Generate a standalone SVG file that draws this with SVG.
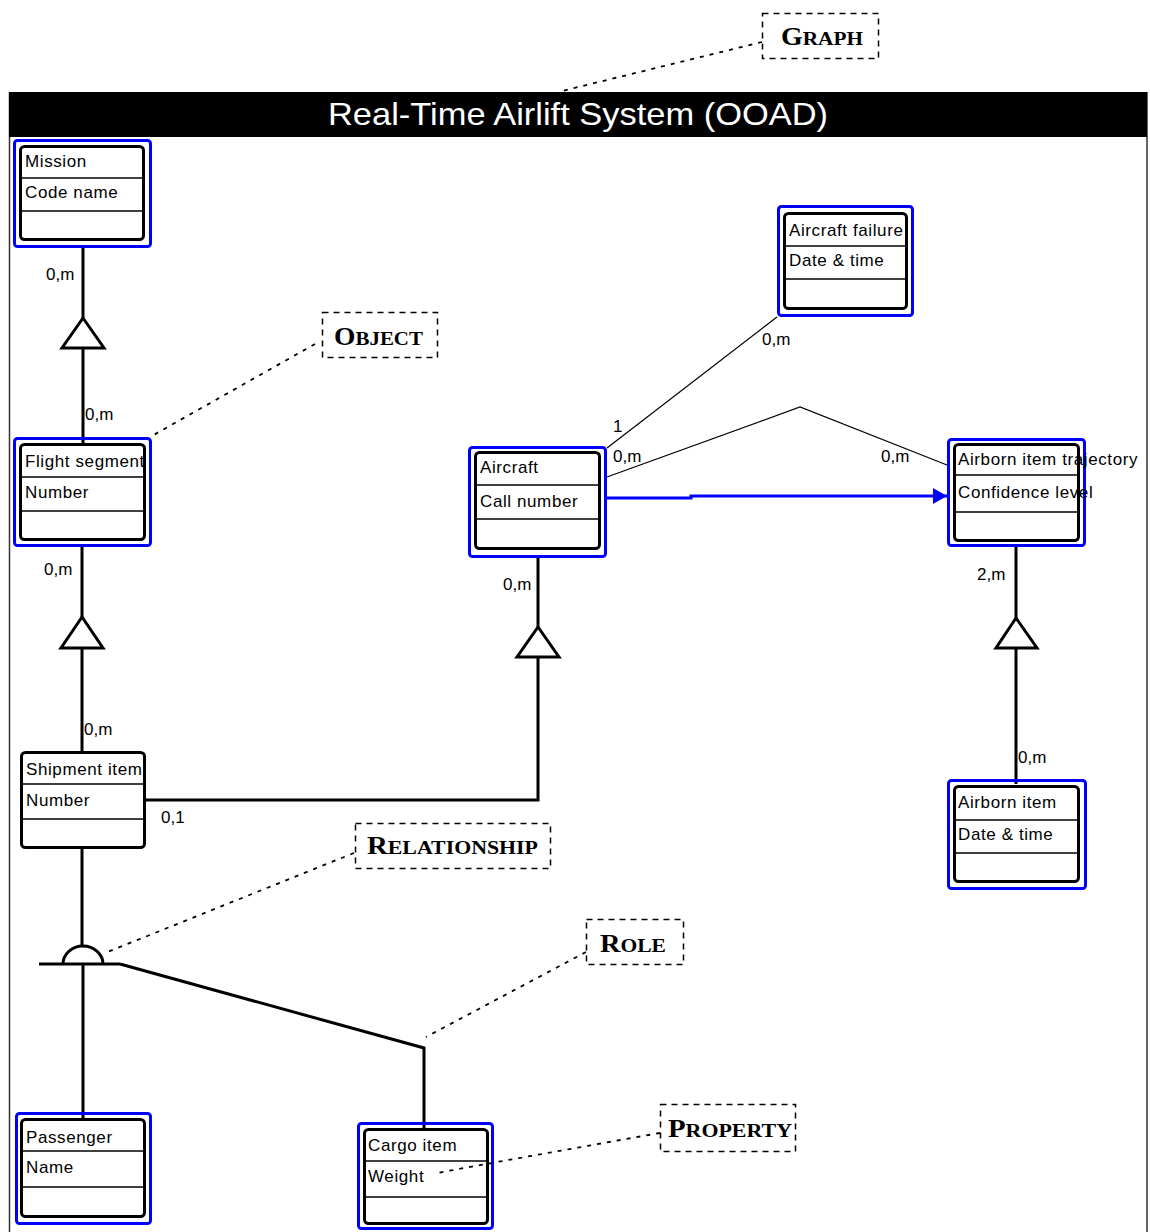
<svg xmlns="http://www.w3.org/2000/svg" width="1150" height="1232" viewBox="0 0 1150 1232">
<defs>
<style>
.blue{fill:none;stroke:#0000ff;stroke-width:3}
.box{fill:#fff;stroke:#000;stroke-width:3}
.div{stroke:#000;stroke-width:1.5}
.lbl{font-family:"Liberation Sans",Arial,sans-serif;font-size:17px;letter-spacing:0.6px;fill:#000}
.card{font-family:"Liberation Sans",Arial,sans-serif;font-size:17px;fill:#000}
.thick{fill:none;stroke:#000;stroke-width:3}
.thin{fill:none;stroke:#000;stroke-width:1.2}
.tri{fill:#fff;stroke:#000;stroke-width:3;stroke-linejoin:miter}
.cbox{fill:#fff;stroke:#000;stroke-width:1.5;stroke-dasharray:6 5}
.lead{fill:none;stroke:#000;stroke-width:1.8;stroke-dasharray:4 6}
.ctext{font-family:"Liberation Serif","Times New Roman",serif;font-weight:bold;fill:#000}
.big{font-size:25px}
.sm{font-size:19px}
</style>
<marker id="arr" markerWidth="14" markerHeight="16" refX="14" refY="8" orient="auto" markerUnits="userSpaceOnUse">
<path d="M0,0 L14,8 L0,16 Z" fill="#0000ff"/>
</marker>
</defs>

<g id="frame">
<line x1="9.5" y1="92" x2="9.5" y2="1232" stroke="#333" stroke-width="1.5"/>
<line x1="1147" y1="92" x2="1147" y2="1232" stroke="#333" stroke-width="1.5"/>
<rect x="9" y="92" width="1138" height="45" fill="#000"/>
<text x="578" y="125" text-anchor="middle" font-family="'Liberation Sans',Arial,sans-serif" font-size="32" fill="#fff" textLength="500" lengthAdjust="spacingAndGlyphs">Real-Time Airlift System (OOAD)</text>
</g>

<g id="connectors">
<line class="thick" x1="83" y1="248" x2="83" y2="318"/>
<polygon class="tri" points="83,318 62,348 104,348"/>
<line class="thick" x1="83" y1="348" x2="83" y2="443"/>

<line class="thick" x1="82" y1="547" x2="82" y2="617"/>
<polygon class="tri" points="82,617 61,648 103,648"/>
<line class="thick" x1="82" y1="648" x2="82" y2="751"/>

<line class="thick" x1="538" y1="558" x2="538" y2="627"/>
<polygon class="tri" points="538,627 517,657 559,657"/>
<polyline class="thick" points="538,657 538,800 146,800"/>

<line class="thick" x1="1016" y1="547" x2="1016" y2="618"/>
<polygon class="tri" points="1016,618 996,648 1037,648"/>
<line class="thick" x1="1016" y1="648" x2="1016" y2="784"/>

<line class="thin" x1="777" y1="317" x2="607" y2="448"/>
<polyline class="thin" points="607,477 800,407 947,465"/>
<polyline fill="none" stroke="#0000ff" stroke-width="3" points="607,498 691,498 691,496 947,496" marker-end="url(#arr)"/>

<line class="thick" x1="82" y1="849" x2="82" y2="946"/>
<path class="thick" d="M63,964 A20,18 0 0 1 103,964"/>
<line class="thick" x1="39" y1="964" x2="120" y2="964"/>
<polyline class="thick" points="120,964 424,1048 424,1128"/>
<line class="thick" x1="83" y1="964" x2="83" y2="1118"/>

<text class="card" x="46" y="280">0,m</text>
<text class="card" x="85" y="420">0,m</text>
<text class="card" x="44" y="575">0,m</text>
<text class="card" x="84" y="735">0,m</text>
<text class="card" x="503" y="590">0,m</text>
<text class="card" x="161" y="823">0,1</text>
<text class="card" x="762" y="345">0,m</text>
<text class="card" x="613" y="432">1</text>
<text class="card" x="613" y="462">0,m</text>
<text class="card" x="881" y="462">0,m</text>
<text class="card" x="977" y="580">2,m</text>
<text class="card" x="1018" y="763">0,m</text>
</g>

<g id="mission">
<rect class="blue" x="14.5" y="140.5" width="136" height="106" rx="3"/>
<rect class="box" x="20.5" y="146.5" width="123" height="93" rx="4"/>
<line class="div" x1="20" y1="178" x2="144" y2="178"/>
<line class="div" x1="20" y1="211" x2="144" y2="211"/>
<text class="lbl" x="25" y="167">Mission</text>
<text class="lbl" x="25" y="198">Code name</text>
</g>

<g id="flight-segment">
<rect class="blue" x="14.5" y="438.5" width="136" height="107" rx="3"/>
<rect class="box" x="20.5" y="444.5" width="124" height="95" rx="4"/>
<line class="div" x1="20" y1="477" x2="145" y2="477"/>
<line class="div" x1="20" y1="511" x2="145" y2="511"/>
<text class="lbl" x="25" y="467">Flight segment</text>
<text class="lbl" x="25" y="498">Number</text>
</g>

<g id="shipment-item">
<rect class="box" x="21.5" y="752.5" width="123" height="95" rx="4"/>
<line class="div" x1="21" y1="784" x2="145" y2="784"/>
<line class="div" x1="21" y1="819" x2="145" y2="819"/>
<text class="lbl" x="26" y="775">Shipment item</text>
<text class="lbl" x="26" y="806">Number</text>
</g>

<g id="aircraft">
<rect class="blue" x="469.5" y="447.5" width="136" height="109" rx="3"/>
<rect class="box" x="475.5" y="452.5" width="124" height="96" rx="4"/>
<line class="div" x1="475" y1="485" x2="600" y2="485"/>
<line class="div" x1="475" y1="519" x2="600" y2="519"/>
<text class="lbl" x="480" y="473">Aircraft</text>
<text class="lbl" x="480" y="507">Call number</text>
</g>

<g id="aircraft-failure">
<rect class="blue" x="778.5" y="206.5" width="134" height="109" rx="3"/>
<rect class="box" x="784.5" y="213.5" width="122" height="95" rx="4"/>
<line class="div" x1="784" y1="246" x2="907" y2="246"/>
<line class="div" x1="784" y1="279" x2="907" y2="279"/>
<text class="lbl" x="789" y="236">Aircraft failure</text>
<text class="lbl" x="789" y="266">Date &amp; time</text>
</g>

<g id="airborn-item-trajectory">
<rect class="blue" x="948.5" y="439.5" width="136" height="106" rx="3"/>
<rect class="box" x="954.5" y="444.5" width="124" height="96" rx="4"/>
<line class="div" x1="954" y1="475" x2="1079" y2="475"/>
<line class="div" x1="954" y1="512" x2="1079" y2="512"/>
<text class="lbl" x="958" y="465">Airborn item trajectory</text>
<text class="lbl" x="958" y="498">Confidence level</text>
</g>

<g id="airborn-item">
<rect class="blue" x="948.5" y="780.5" width="137" height="108" rx="3"/>
<rect class="box" x="954.5" y="786.5" width="124" height="95" rx="4"/>
<line class="div" x1="954" y1="820" x2="1079" y2="820"/>
<line class="div" x1="954" y1="853" x2="1079" y2="853"/>
<text class="lbl" x="958" y="808">Airborn item</text>
<text class="lbl" x="958" y="840">Date &amp; time</text>
</g>

<g id="passenger">
<rect class="blue" x="16.5" y="1113.5" width="134" height="110" rx="3"/>
<rect class="box" x="21.5" y="1119.5" width="123" height="97" rx="4"/>
<line class="div" x1="21" y1="1151" x2="145" y2="1151"/>
<line class="div" x1="21" y1="1187" x2="145" y2="1187"/>
<text class="lbl" x="26" y="1143">Passenger</text>
<text class="lbl" x="26" y="1173">Name</text>
</g>

<g id="cargo-item">
<rect class="blue" x="358.5" y="1123.5" width="134" height="105" rx="3"/>
<rect class="box" x="364.5" y="1129.5" width="123" height="94" rx="4"/>
<line class="div" x1="364" y1="1161" x2="488" y2="1161"/>
<line class="div" x1="364" y1="1197" x2="488" y2="1197"/>
<text class="lbl" x="368" y="1151">Cargo item</text>
<text class="lbl" x="368" y="1182">Weight</text>
</g>

<g id="callouts">
<line class="lead" x1="762" y1="42" x2="562" y2="91"/>
<rect class="cbox" x="762.5" y="13.5" width="116" height="45"/>
<text class="ctext" x="781" y="45" textLength="82" lengthAdjust="spacingAndGlyphs"><tspan class="big">G</tspan><tspan class="sm">RAPH</tspan></text>

<line class="lead" x1="315" y1="344" x2="150" y2="437"/>
<rect class="cbox" x="322.5" y="312.5" width="115" height="45"/>
<text class="ctext" x="334" y="345" textLength="89" lengthAdjust="spacingAndGlyphs"><tspan class="big">O</tspan><tspan class="sm">BJECT</tspan></text>

<line class="lead" x1="354" y1="853" x2="105" y2="953"/>
<rect class="cbox" x="355.5" y="823.5" width="195" height="45"/>
<text class="ctext" x="367" y="854" textLength="171" lengthAdjust="spacingAndGlyphs"><tspan class="big">R</tspan><tspan class="sm">ELATIONSHIP</tspan></text>

<line class="lead" x1="586" y1="952" x2="426" y2="1037"/>
<rect class="cbox" x="586.5" y="919.5" width="97" height="45"/>
<text class="ctext" x="600" y="952" textLength="66" lengthAdjust="spacingAndGlyphs"><tspan class="big">R</tspan><tspan class="sm">OLE</tspan></text>

<polyline class="lead" points="660,1133 497,1162 437,1173"/>
<rect class="cbox" x="660.5" y="1104.5" width="135" height="47" stroke-dasharray="3 5" stroke-width="2.5"/>
<text class="ctext" x="668" y="1137" textLength="124" lengthAdjust="spacingAndGlyphs"><tspan class="big">P</tspan><tspan class="sm">ROPERTY</tspan></text>
</g>
</svg>
